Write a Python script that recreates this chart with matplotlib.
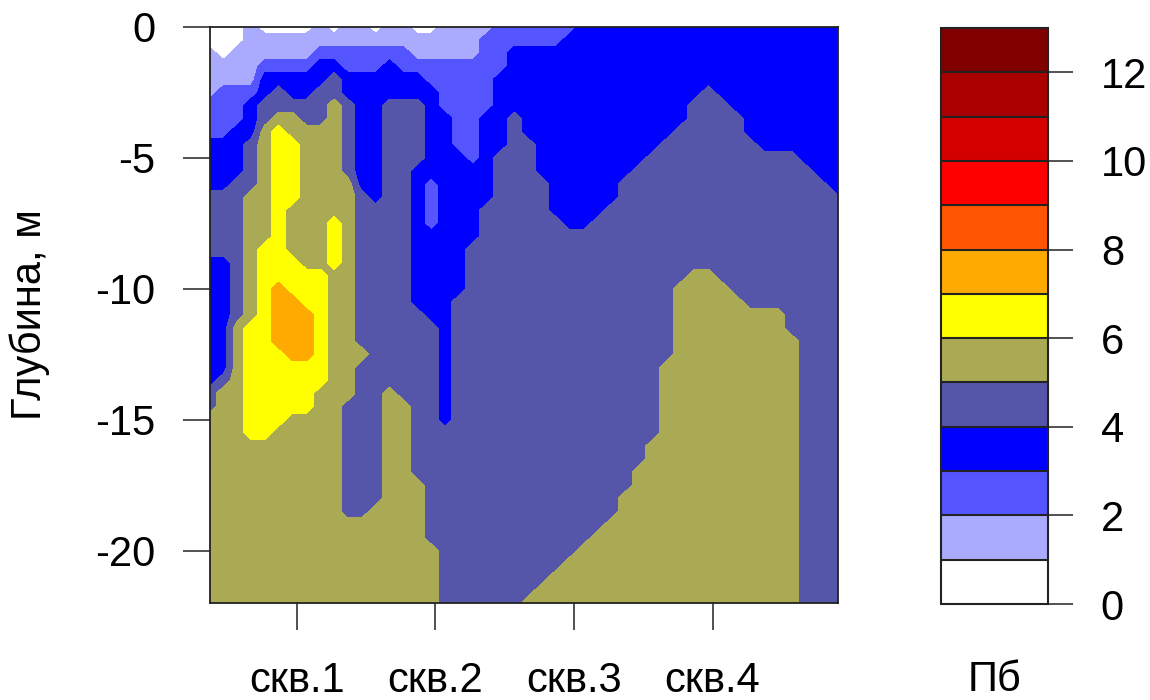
import matplotlib
matplotlib.use("Agg")
import matplotlib.pyplot as plt
import numpy as np

plt.rcParams['font.family'] = ['Liberation Sans', 'DejaVu Sans']
plt.rcParams['axes.unicode_minus'] = False

wells = ["скв.1", "скв.2", "скв.3", "скв.4"]
well_pos = [1, 2, 3, 4]

# section grid: distance along the profile (wells 1 unit apart) and depth, m
dist = 0.37 + 0.1 * np.arange(47)
depth = -0.5 * np.arange(45)

# Пб class at every grid node (0 = 0..1, 1 = 1..2, ...), one string per depth row
pb_rows = [
    "0001000010" "1101100111" "1222222333" "3333333333" "3333333",
    "0001111111" "1111111111" "2222223333" "3333333333" "3333333",
    "1011111122" "2222211111" "2233333333" "3333333333" "3333333",
    "1111222233" "2223222222" "2233333333" "3333333333" "3333333",
    "1111333334" "3333332222" "2333333333" "3333333333" "3333333",
    "1222343344" "3333333222" "2333333333" "3333334333" "3333333",
    "2223444445" "4334443222" "2333333333" "3333344433" "3333333",
    "2223455445" "4334443322" "3343333333" "3333344443" "3333333",
    "2233565555" "4334443322" "3343333333" "3333444443" "3333333",
    "3334566555" "4334443322" "3344333333" "3334444444" "3333333",
    "3334566555" "4334443332" "3444333333" "3344444444" "4443333",
    "3334566555" "4334433333" "3444333333" "3444444444" "4444333",
    "3344566555" "5334432333" "3444433333" "4444444444" "4444433",
    "4445566555" "5434432333" "3444433333" "4444444444" "4444443",
    "4445565555" "5444432333" "4444433334" "4444444444" "4444444",
    "4445565556" "5444432333" "4444443344" "4444444444" "4444444",
    "4445565556" "5444433333" "4444444444" "4444444444" "4444444",
    "4445665556" "5444433334" "4444444444" "4444444444" "4444444",
    "3345666556" "5444433334" "4444444444" "4444444444" "4444444",
    "3345666665" "5444433334" "4444444444" "4444455444" "4444444",
    "3345676665" "5444433334" "4444444444" "4444555544" "4444444",
    "3345677665" "5444433344" "4444444444" "4444555554" "4444444",
    "3345677765" "5444443344" "4444444444" "4444555555" "5544444",
    "3356677765" "5444444344" "4444444444" "4444555555" "5544444",
    "3356677765" "5444444344" "4444444444" "4444555555" "5554444",
    "3356667765" "5544444344" "4444444444" "4444555555" "5554444",
    "3356666665" "5444444344" "4444444444" "4445555555" "5554444",
    "3456666665" "5444444344" "4444444444" "4445555555" "5554444",
    "4556666655" "5445444344" "4444444444" "4445555555" "5554444",
    "4556666655" "4445544344" "4444444444" "4445555555" "5554444",
    "5556665555" "4445544344" "4444444444" "4445555555" "5554444",
    "5556655555" "4445544444" "4444444444" "4445555555" "5554444",
    "5555555555" "4445544444" "4444444444" "4455555555" "5554444",
    "5555555555" "4445544444" "4444444444" "4455555555" "5554444",
    "5555555555" "4445544444" "4444444444" "4555555555" "5554444",
    "5555555555" "4445554444" "4444444444" "4555555555" "5554444",
    "5555555555" "4445554444" "4444444444" "5555555555" "5554444",
    "5555555555" "4455554444" "4444444444" "5555555555" "5554444",
    "5555555555" "5555554444" "4444444445" "5555555555" "5554444",
    "5555555555" "5555554444" "4444444455" "5555555555" "5554444",
    "5555555555" "5555555444" "4444444555" "5555555555" "5554444",
    "5555555555" "5555555444" "4444445555" "5555555555" "5554444",
    "5555555555" "5555555444" "4444455555" "5555555555" "5554444",
    "5555555555" "5555555444" "4444555555" "5555555555" "5554444",
    "5555555555" "5555555444" "4445555555" "5555555555" "5554444",
]
assert all(len(r) == len(dist) for r in pb_rows) and len(pb_rows) == len(depth)

levels = np.arange(0, 14)
colors = ["#FFFFFF", "#AAAAFF", "#5555FF", "#0000FF", "#5555AA", "#AAAA55",
          "#FFFF00", "#FFAA00", "#FF5500", "#FF0000", "#D50000", "#AA0000",
          "#800000"]

# node value = middle of its class
pb = np.array([[int(c) for c in r] for r in pb_rows]) + 0.5

fig = plt.figure(figsize=(11.5, 7), dpi=100)
W, H = 1150, 700

ax = fig.add_axes([210 / W, 97 / H, 628 / W, 576 / H])
cs = ax.contourf(dist, depth, pb, levels=levels, colors=colors)
ax.set_xlim(0.375, 4.905)
ax.set_ylim(-22, 0)
ax.set_xticks(well_pos, wells)
ax.set_yticks([0, -5, -10, -15, -20])
ax.tick_params(axis='both', length=19.5, width=1.1, labelsize=30,
               direction='out', color='#222222')
ax.tick_params(axis='x', pad=22)
ax.tick_params(axis='y', pad=20)
for sp in ax.spines.values():
    sp.set_linewidth(1.3)
    sp.set_color('#222222')

fig.text(30 / W, 1 - 315 / H, "Глубина, м", rotation=90,
         ha='center', va='center', fontsize=30)

# colour key
cax = fig.add_axes([941 / W, 96 / H, 107 / W, 576 / H])
cb = fig.colorbar(cs, cax=cax, drawedges=True)
cb.set_ticks([0, 2, 4, 6, 8, 10, 12])
cb.outline.set_linewidth(1.5)
cb.outline.set_edgecolor('#222222')
cb.dividers.set_color('#222222')
cb.dividers.set_linewidth(1.5)
cax.tick_params(length=18, width=1.1, labelsize=30, pad=20, color='#222222')

fig.text(994.5 / W, 1 - 691 / H, "Пб", ha='center', va='baseline', fontsize=30)

fig.savefig("out.png", dpi=100)
